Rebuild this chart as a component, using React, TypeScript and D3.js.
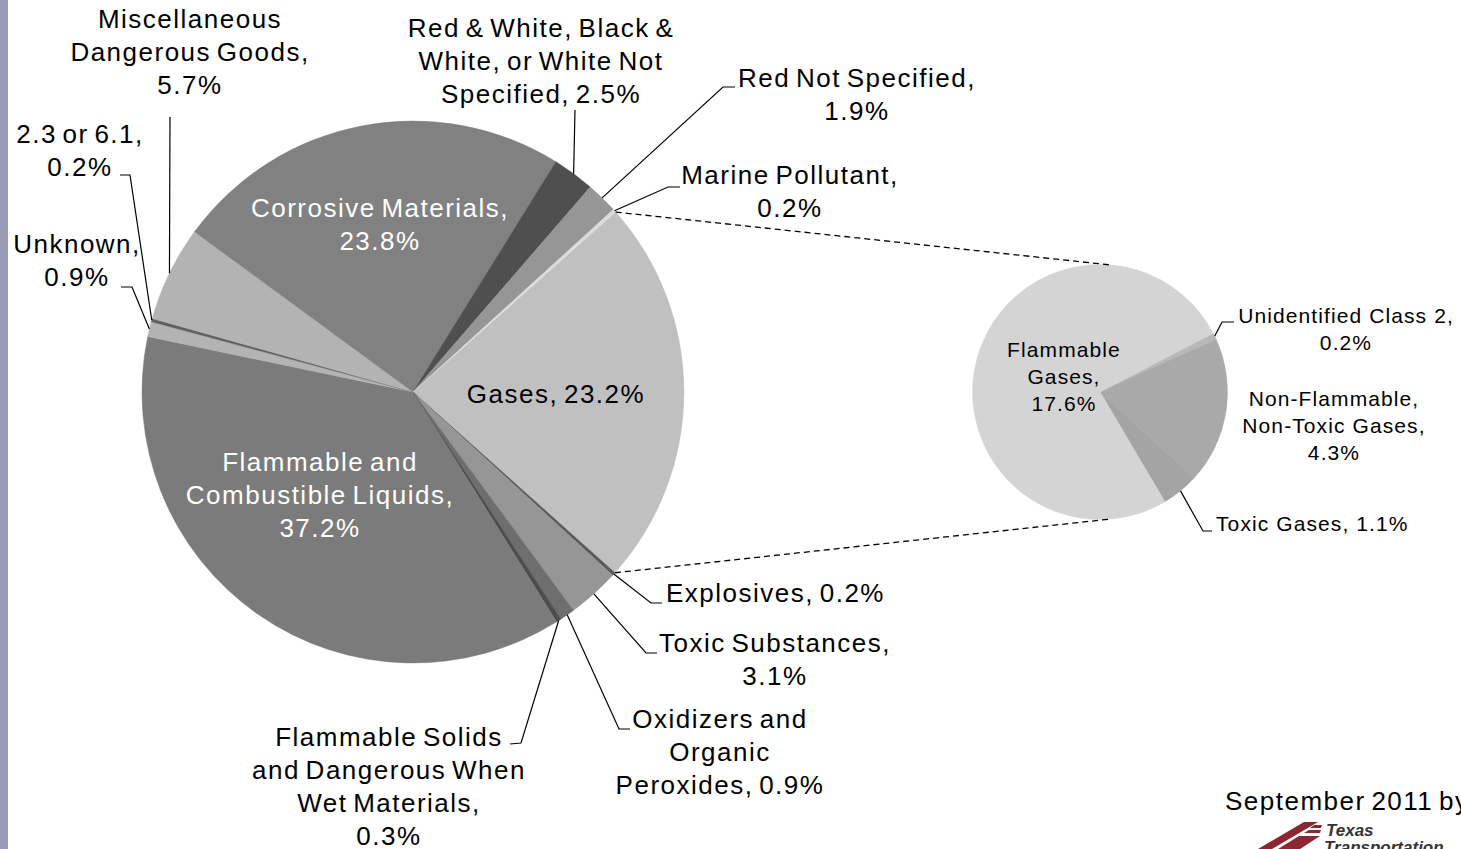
import React from "react";
import * as d3 from "d3";

// ---------- data ----------
const mainCategories = [
  "Gases",
  "Explosives",
  "Toxic Substances",
  "Oxidizers and Organic Peroxides",
  "Flammable Solids and Dangerous When Wet Materials",
  "Flammable and Combustible Liquids",
  "Unknown",
  "2.3 or 6.1",
  "Miscellaneous Dangerous Goods",
  "Corrosive Materials",
  "Red & White, Black & White, or White Not Specified",
  "Red Not Specified",
  "Marine Pollutant",
];
const mainValues = [23.2, 0.2, 3.1, 0.9, 0.3, 37.2, 0.9, 0.2, 5.7, 23.8, 2.5, 1.9, 0.2];
const mainColors = [
  "#c0c0c0", "#5a5a5a", "#969696", "#6e6e6e", "#4d4d4d", "#7b7b7b",
  "#b3b3b3", "#606060", "#b3b3b3", "#818181", "#4f4f4f", "#969696", "#dcdcdc",
];

const subCategories = ["Unidentified Class 2", "Non-Flammable, Non-Toxic Gases", "Toxic Gases", "Flammable Gases"];
const subValues = [0.2, 4.3, 1.1, 17.6];
const subColors = ["#b8b8b8", "#a9a9a9", "#a4a4a4", "#d4d4d4"];

// ---------- layout ----------
const W = 1461;
const H = 849;
const C1 = { x: 413, y: 392, r: 271 };
const C2 = { x: 1100, y: 392, r: 127.5 };
const deg = Math.PI / 180;
const mainStart = 48.4 * deg;
const subStart = 62.5 * deg;

const FONT = "'Liberation Sans', Arial, sans-serif";

type Lbl = {
  lines: string[];
  x: number;
  y: number; // first baseline
  anchor?: "start" | "middle" | "end";
  fill?: string;
  leader?: [number, number][]; // points after the slice edge point
};

const mainLabels: Record<string, Lbl> = {
  "Gases": { lines: ["Gases, 23.2%"], x: 556, y: 403 },
  "Explosives": { lines: ["Explosives, 0.2%"], x: 666, y: 602, anchor: "start", leader: [[651, 603], [662, 603]] },
  "Toxic Substances": { lines: ["Toxic Substances,", "3.1%"], x: 775, y: 652, leader: [[646, 653], [657, 653]] },
  "Oxidizers and Organic Peroxides": { lines: ["Oxidizers and", "Organic", "Peroxides, 0.9%"], x: 720, y: 728, leader: [[619, 729], [630, 729]] },
  "Flammable Solids and Dangerous When Wet Materials": { lines: ["Flammable Solids", "and Dangerous When", "Wet Materials,", "0.3%"], x: 389, y: 746, leader: [[521, 743], [510, 744]] },
  "Flammable and Combustible Liquids": { lines: ["Flammable and", "Combustible Liquids,", "37.2%"], x: 320, y: 471, fill: "#ffffff" },
  "Unknown": { lines: ["Unknown,", "0.9%"], x: 77, y: 253, leader: [[132, 287], [121, 287]] },
  "2.3 or 6.1": { lines: ["2.3 or 6.1,", "0.2%"], x: 80, y: 143, leader: [[130, 175], [120, 175]] },
  "Miscellaneous Dangerous Goods": { lines: ["Miscellaneous", "Dangerous Goods,", "5.7%"], x: 190, y: 28, leader: [[170, 117]] },
  "Corrosive Materials": { lines: ["Corrosive Materials,", "23.8%"], x: 380, y: 217, fill: "#ffffff" },
  "Red & White, Black & White, or White Not Specified": { lines: ["Red & White, Black &", "White, or White Not", "Specified, 2.5%"], x: 541, y: 37, leader: [[575, 110]] },
  "Red Not Specified": { lines: ["Red Not Specified,", "1.9%"], x: 857, y: 87, leader: [[723, 87], [735, 87]] },
  "Marine Pollutant": { lines: ["Marine Pollutant,", "0.2%"], x: 790, y: 184, leader: [[668, 187], [680, 187]] },
};

const subLabels: Record<string, Lbl> = {
  "Unidentified Class 2": { lines: ["Unidentified Class 2,", "0.2%"], x: 1346, y: 323, leader: [[1222, 322], [1234, 322]] },
  "Non-Flammable, Non-Toxic Gases": { lines: ["Non-Flammable,", "Non-Toxic Gases,", "4.3%"], x: 1334, y: 406 },
  "Toxic Gases": { lines: ["Toxic Gases, 1.1%"], x: 1216, y: 531, anchor: "start", leader: [[1203, 531], [1212, 531]] },
  "Flammable Gases": { lines: ["Flammable", "Gases,", "17.6%"], x: 1064, y: 357 },
};

function edgePoint(c: { x: number; y: number; r: number }, a: number): [number, number] {
  return [c.x + c.r * Math.sin(a), c.y - c.r * Math.cos(a)];
}

function Label({ l, size, lh, ls, ws }: { l: Lbl; size: number; lh: number; ls: number; ws: number }) {
  return (
    <text
      x={l.x}
      y={l.y}
      textAnchor={l.anchor ?? "middle"}
      fontFamily={FONT}
      fontSize={size}
      fill={l.fill ?? "#000"}
      letterSpacing={ls}
      wordSpacing={ws}
    >
      {l.lines.map((t, i) => (
        <tspan key={i} x={l.x} dy={i === 0 ? 0 : lh}>
          {t}
        </tspan>
      ))}
    </text>
  );
}

export default function App() {
  const pieMain = d3
    .pie<number>()
    .sort(null)
    .startAngle(mainStart)
    .endAngle(mainStart + 2 * Math.PI)(mainValues);
  const pieSub = d3
    .pie<number>()
    .sort(null)
    .startAngle(subStart)
    .endAngle(subStart + 2 * Math.PI)(subValues);

  const arcMain = d3.arc<d3.PieArcDatum<number>>().innerRadius(0).outerRadius(C1.r);
  const arcSub = d3.arc<d3.PieArcDatum<number>>().innerRadius(0).outerRadius(C2.r);

  const gasIdx = mainCategories.indexOf("Gases");
  const gas = pieMain[gasIdx];
  const pTop = edgePoint(C1, gas.startAngle);
  const pBot = edgePoint(C1, gas.endAngle);
  const qTop = edgePoint(C2, 4.5 * deg);
  const qBot = edgePoint(C2, 175.5 * deg);

  const line = d3.line();

  return (
    <svg width={W} height={H} style={{ position: "absolute", left: 0, top: 0, background: "#fff" }}>
      <rect x={0} y={0} width={W} height={H} fill="#ffffff" />
      <rect x={0} y={0} width={8} height={H} fill="#9b9bb6" />

      <g transform={`translate(${C1.x},${C1.y})`}>
        {pieMain.map((d, i) => (
          <path key={i} d={arcMain(d) ?? ""} fill={mainColors[i]} stroke={mainColors[i]} strokeWidth={0.5} />
        ))}
      </g>

      <g transform={`translate(${C2.x},${C2.y})`}>
        {pieSub.map((d, i) => (
          <path key={i} d={arcSub(d) ?? ""} fill={subColors[i]} stroke={subColors[i]} strokeWidth={0.5} />
        ))}
      </g>

      <path d={line([pTop, qTop]) ?? ""} stroke="#000" strokeWidth={1.3} strokeDasharray="6,4" fill="none" />
      <path d={line([pBot, qBot]) ?? ""} stroke="#000" strokeWidth={1.3} strokeDasharray="6,4" fill="none" />

      {pieMain.map((d, i) => {
        const l = mainLabels[mainCategories[i]];
        const mid = (d.startAngle + d.endAngle) / 2;
        const p0 = edgePoint(C1, mid);
        return (
          <g key={i}>
            {l.leader && (
              <path d={line([p0, ...l.leader]) ?? ""} stroke="#000" strokeWidth={1.2} fill="none" />
            )}
            <Label l={l} size={26} lh={33} ls={1.5} ws={-3} />
          </g>
        );
      })}

      {pieSub.map((d, i) => {
        const l = subLabels[subCategories[i]];
        const mid = (d.startAngle + d.endAngle) / 2;
        const p0 = edgePoint(C2, mid);
        return (
          <g key={i}>
            {l.leader && (
              <path d={line([p0, ...l.leader]) ?? ""} stroke="#000" strokeWidth={1.2} fill="none" />
            )}
            <Label l={l} size={21} lh={27} ls={1.1} ws={0} />
          </g>
        );
      })}

      <text x={1225} y={810} fontFamily={FONT} fontSize={26} letterSpacing={1.5} wordSpacing={-3} fill="#000">
        September 2011 by
      </text>
      <g fill="#8c2633">
        <polygon points="1258,849 1272,849 1318,822 1304,822" />
        <polygon points="1278,849 1300,849 1320,836 1299,836" />
        <polygon points="1304,833 1320,833 1321,830 1309,830" />
        <polygon points="1310,828 1321,828 1322,825 1314,825" />
      </g>
      <text x={1326} y={836} fontFamily={FONT} fontSize={17} fontWeight="bold" fontStyle="italic" fill="#333">
        Texas
      </text>
      <text x={1324} y={853} fontFamily={FONT} fontSize={17} fontWeight="bold" fontStyle="italic" fill="#333">
        Transportation
      </text>
    </svg>
  );
}
